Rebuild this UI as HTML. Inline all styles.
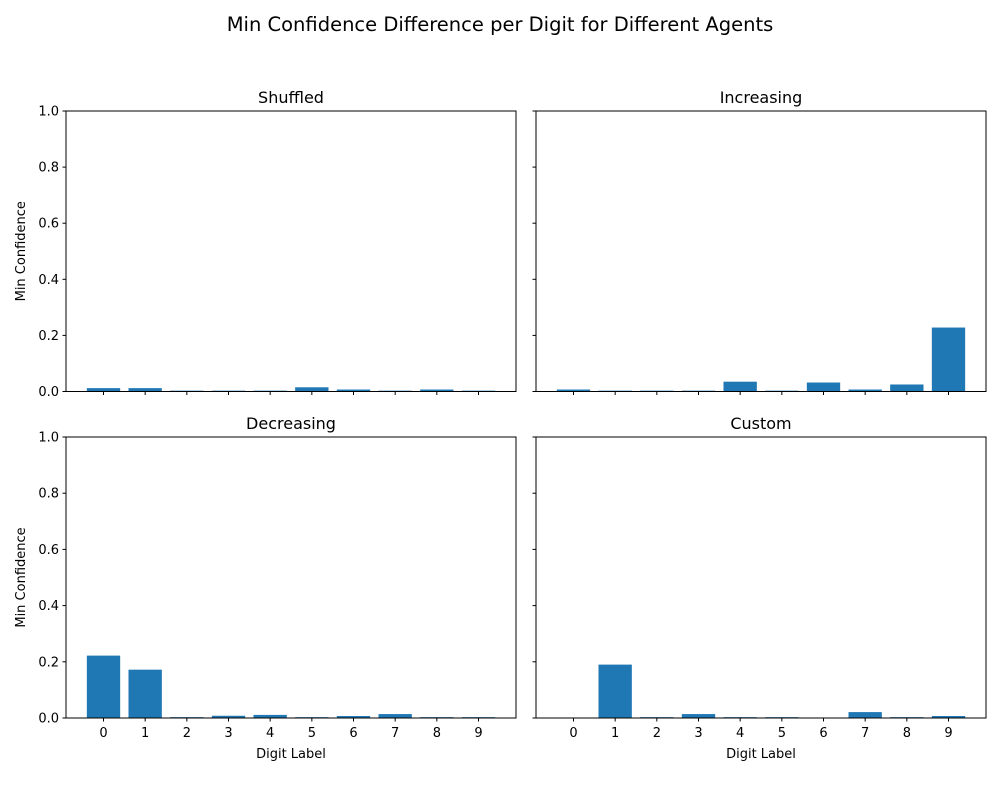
<!DOCTYPE html>
<html><head><meta charset="utf-8"><style>
body{margin:0;background:#fff;}
svg text{font-family:"DejaVu Sans","Liberation Sans",sans-serif;fill:#000;}
</style></head><body>
<svg id="chart" width="1000" height="800">
<rect width="1000" height="800" fill="#fff"/>
<text x="500" y="31" font-size="19.5" text-anchor="middle">Min Confidence Difference per Digit for Different Agents</text>
</svg>
<script>
const categories=[0,1,2,3,4,5,6,7,8,9];
const shuffledValues=[0.012,0.012,0.003,0.003,0.003,0.015,0.007,0.003,0.007,0.003];
const increasingValues=[0.007,0.003,0.003,0.003,0.035,0.003,0.032,0.007,0.025,0.228];
const decreasingValues=[0.222,0.172,0.003,0.008,0.011,0.003,0.007,0.014,0.003,0.003];
const customValues=[0,0.19,0.003,0.014,0.003,0.003,0,0.021,0.003,0.007];
const yTicks=[0,0.2,0.4,0.6,0.8,1.0];
const yTickLabels=["0.0","0.2","0.4","0.6","0.8","1.0"];
const panelTitles=["Shuffled","Increasing","Decreasing","Custom"];

const svg=document.getElementById('chart');
const NS='http://www.w3.org/2000/svg';
function mk(tag,attrs,parent){const e=document.createElementNS(NS,tag);for(const k in attrs)e.setAttribute(k,attrs[k]);(parent||svg).appendChild(e);return e;}
const panels=[
 {x0:66,x1:516,y0:111,y1:391.5,vals:shuffledValues,ylab:true,xlab:false},
 {x0:536,x1:986,y0:111,y1:391.5,vals:increasingValues,ylab:false,xlab:false},
 {x0:66,x1:516,y0:437,y1:718,vals:decreasingValues,ylab:true,xlab:true},
 {x0:536,x1:986,y0:437,y1:718,vals:customValues,ylab:false,xlab:true}];
panels.forEach((p,i)=>{
 const g=mk('g',{});
 
 
 const xs=v=>p.x0+(v+0.9)/10.8*(p.x1-p.x0);
 const ys=v=>p.y1-v*(p.y1-p.y0);
 p.vals.forEach((v,j)=>{
  const r=mk('rect',{x:xs(categories[j]-0.4),y:ys(v),width:xs(0.4)-xs(-0.4),height:ys(0)-ys(v),fill:'#1f77b4'},g);
  
  
 });
 mk('rect',{x:p.x0,y:p.y0,width:p.x1-p.x0,height:p.y1-p.y0,fill:'none',stroke:'#000','stroke-width':1},g);
 const t=mk('text',{x:(p.x0+p.x1)/2,y:p.y0-8,'font-size':16,'text-anchor':'middle'},g);
 t.textContent=panelTitles[i];
 
 
 yTicks.forEach((v,k)=>{
  mk('line',{x1:p.x0-3.5,x2:p.x0,y1:ys(v),y2:ys(v),stroke:'#000'},g);
  if(p.ylab){const tl=mk('text',{x:p.x0-7,y:ys(v)+4.5,'font-size':13,'text-anchor':'end'},g);tl.textContent=yTickLabels[k];
   
   }
 });
 categories.forEach(c=>{
  mk('line',{x1:xs(c),x2:xs(c),y1:p.y1,y2:p.y1+3.5,stroke:'#000'},g);
  if(p.xlab){const tl=mk('text',{x:xs(c),y:p.y1+19,'font-size':13,'text-anchor':'middle'},g);tl.textContent=c;
   
   }
 });
 if(p.ylab){const yl=mk('text',{x:0,y:0,'font-size':13,'text-anchor':'middle',transform:`translate(25,${(p.y0+p.y1)/2}) rotate(-90)`},g);yl.textContent='Min Confidence';
  
  }
 if(p.xlab){const xl=mk('text',{x:(p.x0+p.x1)/2,y:p.y1+40,'font-size':13,'text-anchor':'middle'},g);xl.textContent='Digit Label';
  
  }
});
</script>
</body></html>
